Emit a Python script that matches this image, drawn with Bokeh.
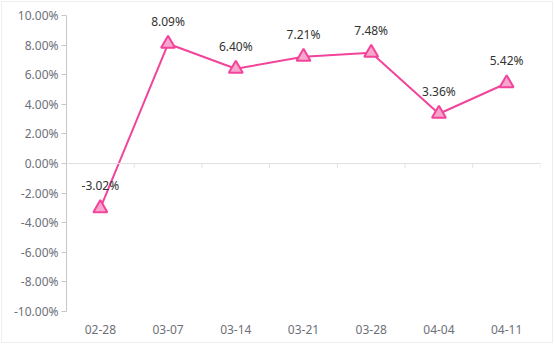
from bokeh.plotting import figure
from bokeh.models import ColumnDataSource, FixedTicker, PrintfTickFormatter, Span, LabelSet
from bokeh.core.properties import value
from bokeh.embed import file_html
from bokeh.resources import INLINE

categories = ["02-28", "03-07", "03-14", "03-21", "03-28", "04-04", "04-11"]
values = [-3.02, 8.09, 6.40, 7.21, 7.48, 3.36, 5.42]
y_ticks = [-10, -8, -6, -4, -2, 0, 2, 4, 6, 8, 10]

xs = list(range(len(categories)))
src = ColumnDataSource(dict(x=xs, y=values, lab=["%.2f%%" % v for v in values]))

FONT = "Noto Sans"
p = figure(width=552, height=342, output_backend="svg", toolbar_location=None,
           x_range=(-0.5, len(categories) - 0.5), y_range=(-10, 10),
           min_border_left=64, min_border_right=14, min_border_top=13, min_border_bottom=33)
p.styles = {"border": "1px solid #eeeeee", "box-sizing": "border-box", "margin-left": "1px", "margin-top": "1px"}
p.outline_line_color = None
p.xgrid.visible = False
p.ygrid.visible = False

# y axis
p.yaxis.ticker = FixedTicker(ticks=y_ticks)
p.yaxis.formatter = PrintfTickFormatter(format="%.2f%%")
p.yaxis.axis_line_color = "#c8c8c8"
p.yaxis.major_tick_line_color = "#c8c8c8"
p.yaxis.major_tick_in = 0
p.yaxis.major_tick_out = 5
p.yaxis.minor_tick_line_color = None
p.yaxis.major_label_text_font = FONT
p.yaxis.major_label_text_font_size = "12px"
p.yaxis.major_label_text_color = "#6E7079"
p.yaxis.major_label_standoff = 3

# x axis (labels at the bottom)
p.xaxis.ticker = FixedTicker(ticks=xs)
p.xaxis.major_label_overrides = {i: c for i, c in enumerate(categories)}
p.xaxis.axis_line_color = None
p.xaxis.major_tick_line_color = None
p.xaxis.minor_tick_line_color = None
p.xaxis.major_label_text_font = FONT
p.xaxis.major_label_text_font_size = "12px"
p.xaxis.major_label_text_color = "#6E7079"
p.xaxis.major_label_standoff = 7

# zero line with band boundary ticks
p.add_layout(Span(location=0, dimension="width", line_color="#e0e0e0", line_width=1))
bx = [i - 0.5 for i in range(len(categories) + 1)]
p.segment(x0=bx, x1=bx, y0=[0] * len(bx), y1=[-0.3] * len(bx), line_color="#e0e0e0", line_width=1)

p.line("x", "y", source=src, line_color="#f2449b", line_width=2)
p.scatter("x", "y", source=src, marker="triangle", size=14, fill_color="#f7a6cc",
          line_color="#f2449b", line_width=2)

labels = LabelSet(x="x", y="y", text="lab", source=src, text_align="center", text_baseline="bottom",
                  y_offset=14, text_font=value(FONT), text_font_size=value("12px"), text_color="#333333")
p.add_layout(labels)

open("out.html", "w").write(file_html(p, INLINE))
